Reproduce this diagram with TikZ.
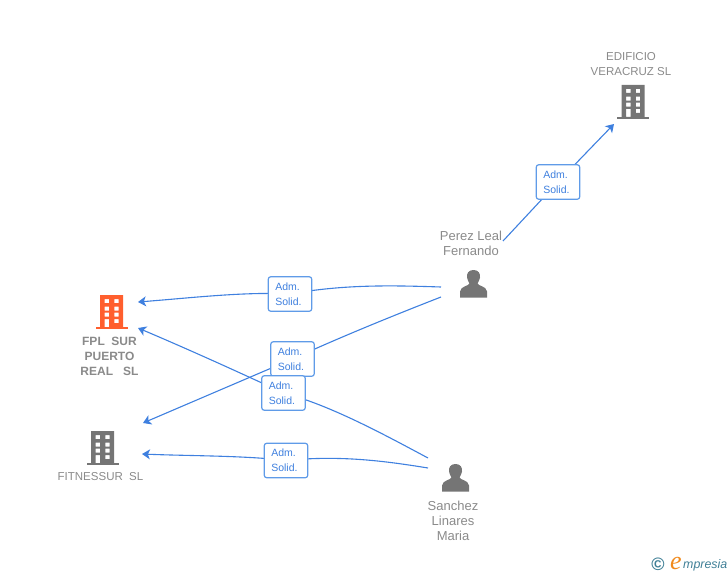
\documentclass[tikz,border=0pt]{standalone}
\usepackage{fontspec}
\setmainfont{Liberation Sans}
\newfontfamily\wmfont{Liberation Serif}
\usetikzlibrary{arrows.meta}
\definecolor{linkblue}{HTML}{3F80DF}
\definecolor{boxblue}{HTML}{5F9BE8}
\definecolor{icongray}{HTML}{757575}
\definecolor{labelgray}{HTML}{8A8A8A}
\definecolor{iconorange}{HTML}{FF5F2E}
\definecolor{wmteal}{HTML}{3F7F96}
\definecolor{wmorange}{HTML}{F08A1D}
\tikzset{
  link/.style={draw=linkblue,line width=1.1pt},
  arrowlink/.style={link,-{Stealth[length=8pt,width=10pt,inset=2.2pt]}},
  relbox/.style={draw=boxblue,fill=white,line width=1.2pt,rounded corners=2.5pt,
    text width=29.5pt,inner xsep=7pt,inner ysep=0pt,
    minimum height=34.5pt,align=left,
    text=linkblue,font=\fontsize{10.5}{15}\selectfont},
  captext/.style={text=labelgray,align=center,inner sep=0pt,font=\fontsize{13}{15}\selectfont},
  capsmall/.style={text=labelgray,align=center,inner sep=0pt,font=\fontsize{11.5}{15}\selectfont},
  capbold/.style={text=labelgray,align=center,inner sep=0pt,font=\fontsize{12}{15}\selectfont\bfseries},
  pics/tower/.style={code={
    \fill[#1,even odd rule] (-11.5,-16) rectangle (11.5,16)
      (-6.8,-12) rectangle (-2.5,-8) (2.8,-12) rectangle (7.2,-8)
      (-6.8,-4.3) rectangle (-2.5,-.3) (2.8,-4.3) rectangle (7.2,-.3)
      (-6.8,1.7) rectangle (-2.5,5.7) (2.8,1.7) rectangle (7.2,5.7)
      (-6.8,8) rectangle (-2.5,16) (2.8,8) rectangle (7.2,12);
    \fill[#1] (-16,16) rectangle (16,18);
  }},
  pics/person/.style={code={
    \fill[icongray] (0,-14.5) .. controls (5,-14.5) and (7,-11) .. (6.5,-7)
      .. controls (6.2,-4) and (4.5,-2.5) .. (4,-1) .. controls (4.5,1.5) and (13,1.5) .. (13.5,7)
      -- (13.5,13) -- (-13.5,13) -- (-13.5,7)
      .. controls (-13,1.5) and (-4.5,1.5) .. (-4,-1) .. controls (-4.5,-2.5) and (-6.2,-4) .. (-6.5,-7)
      .. controls (-7,-11) and (-5,-14.5) .. (0,-14.5) -- cycle;
  }}
}
\begin{document}
\begin{tikzpicture}[x=1pt,y=-1pt]
\useasboundingbox (0,0) rectangle (728,575);
% icons
\coordinate (fplicon) at (111.5,311);
\coordinate (fiticon) at (102.5,447);
\coordinate (edicon) at (633,101);
\coordinate (pericon) at (473.5,284.5);
\coordinate (sanicon) at (455.5,478.5);
\pic at (fplicon) {tower=iconorange};
\pic at (fiticon) {tower=icongray};
\pic at (edicon) {tower=icongray};
\pic at (pericon) {person};
\pic at (sanicon) {person};
% captions
\node[capbold] (fpl) at (109.5,356) {FPL\ \ SUR\\PUERTO\\REAL\ \ \ SL};
\node[capsmall] (fit) at (100.5,477) {FITNESSUR\ \ SL};
\node[capsmall] (ed) at (631,64) {EDIFICIO\\VERACRUZ SL};
\node[captext] (per) at (471,243.5) {Perez Leal\\Fernando};
\node[captext] (san) at (453,521) {Sanchez\\Linares\\Maria};
% relation boxes
\coordinate (endA) at (503,241);
\coordinate (endB) at (441,287);
\coordinate (endC) at (441,297);
\coordinate (endD) at (428,458);
\coordinate (endE) at (428,468);
\coordinate (tipA) at (614,124);
\coordinate (tipB) at (138,302);
\coordinate (tipC) at (143,423);
\coordinate (tipD) at (138,328);
\coordinate (tipE) at (142,454);
\coordinate (mA) at (558,182);
\coordinate (mB) at (290,294);
\coordinate (mC) at (292.5,359);
\coordinate (mD) at (283.5,393);
\coordinate (mE) at (286,460.5);
% connectors
\draw[link] (endA) -- (mA);
\draw[arrowlink] (mA) -- (tipA);
\draw[link] (endB) .. controls (395,285.5) and (345,284) .. (mB);
\draw[arrowlink] (mB) .. controls (245,291.5) and (190,298) .. (tipB);
\draw[link] (endC) .. controls (400,313) and (345,335) .. (mC);
\draw[arrowlink] (mC) -- (tipC);
\draw[link] (endD) .. controls (385,435) and (330,405) .. (mD);
\draw[arrowlink] (mD) .. controls (245,375) and (190,350) .. (tipD);
\draw[link] (endE) .. controls (385,461) and (340,455) .. (mE);
\draw[arrowlink] (mE) .. controls (245,455.5) and (190,456) .. (tipE);
% boxes over the lines
\node[relbox] (bA) at (mA) {Adm.\\Solid.};
\node[relbox] (bB) at (mB) {Adm.\\Solid.};
\node[relbox] (bC) at (mC) {Adm.\\Solid.};
\node[relbox] (bD) at (mD) {Adm.\\Solid.};
\node[relbox] (bE) at (mE) {Adm.\\Solid.};
% watermark
\node[inner sep=0pt,text=wmteal,font=\bfseries\fontsize{18}{18}\selectfont] (wmc) at (658,564) {©};
\node[inner sep=0pt,anchor=base,text=wmorange,font=\wmfont\itshape\fontsize{26}{26}\selectfont] (wme) at (676,569) {e};
\node[inner sep=0pt,anchor=base west,text=wmteal,font=\itshape\fontsize{12.4}{14}\selectfont] (wmt) at (683,568) {mpresia};
\end{tikzpicture}
\end{document}
